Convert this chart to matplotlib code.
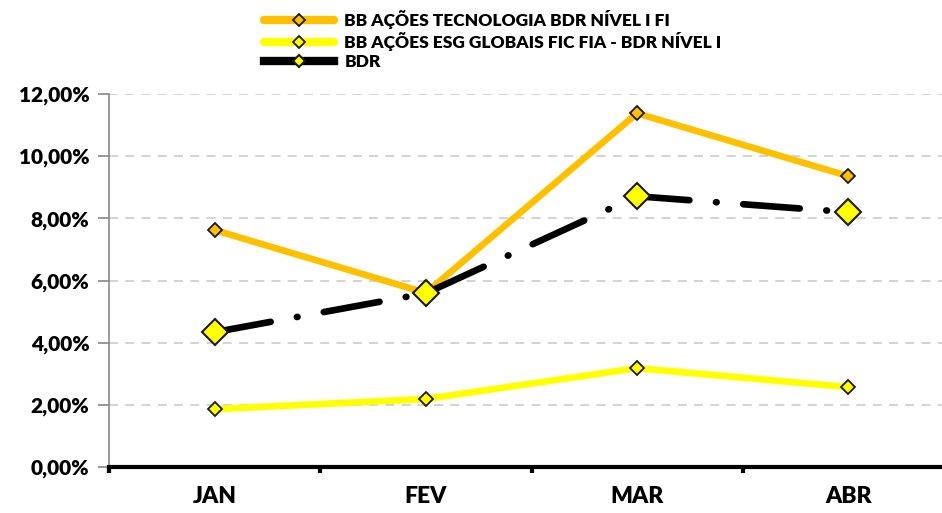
import matplotlib.pyplot as plt
from matplotlib.ticker import FuncFormatter, FixedLocator, NullFormatter

meses = ['JAN', 'FEV', 'MAR', 'ABR']
tecnologia = [7.62, 5.60, 11.38, 9.36]
esg = [1.86, 2.19, 3.18, 2.57]
bdr = [4.34, 5.59, 8.71, 8.20]

nomes = ['BB AÇÕES TECNOLOGIA BDR NÍVEL I FI',
         'BB AÇÕES ESG GLOBAIS FIC FIA - BDR NÍVEL I',
         'BDR']

plt.rcParams['font.family'] = ['Lato', 'DejaVu Sans']
plt.rcParams['font.weight'] = 'heavy'

fig = plt.figure(figsize=(9.42, 5.13), dpi=100)
ax = fig.add_axes([109 / 942, 1 - 467 / 513, (942 - 109) / 942, (467 - 94) / 513])

x = range(len(meses))
ax.plot(x, tecnologia, color='#FFC000', lw=4.8, solid_capstyle='round',
        marker='D', ms=7, mfc='#FFC000', mec='#1a1a1a', mew=1.3, label=nomes[0], zorder=3)
ax.plot(x, esg, color='#FFFF00', lw=4.8, solid_capstyle='round',
        marker='D', ms=7, mfc='#FFFF00', mec='#1a1a1a', mew=1.3, label=nomes[1], zorder=3)
ax.plot(x, bdr, color='black', lw=4.8, dashes=(8.5, 4.0, 0.1, 4.0), dash_capstyle='round',
        marker='D', ms=13, mfc='#FFFF00', mec='#1a1a1a', mew=1.5, label=nomes[2], zorder=4)

ax.set_xlim(-0.502, 3.445)
ax.set_ylim(0, 12)
ax.set_yticks([0, 2, 4, 6, 8, 10, 12])
ax.yaxis.set_major_formatter(FuncFormatter(lambda v, p: f'{v:.2f}%'.replace('.', ',')))
ax.yaxis.grid(True, color='#d0d0d0', ls=(0, (5, 4)), lw=1.3)
ax.set_axisbelow(True)

ax.xaxis.set_major_locator(FixedLocator([-0.5, 0.5, 1.5, 2.5]))
ax.xaxis.set_major_formatter(NullFormatter())
ax.xaxis.set_minor_locator(FixedLocator(list(x)))
ax.set_xticklabels(meses, minor=True)
ax.tick_params(axis='x', which='major', length=4, width=3, color='black')
ax.tick_params(axis='x', which='minor', length=0, pad=14, labelsize=16.5)
ax.tick_params(axis='y', length=8, width=1.2, color='#888888', labelsize=15, pad=6)

for s in ['top', 'right']:
    ax.spines[s].set_visible(False)
ax.spines['left'].set_color('#888888')
ax.spines['left'].set_linewidth(1.2)
ax.spines['bottom'].set_color('black')
ax.spines['bottom'].set_linewidth(3)
ax.spines['bottom'].set_zorder(5)

leg = ax.legend(loc='upper left', bbox_to_anchor=(254 / 942, 1.0), bbox_transform=fig.transFigure,
                frameon=False, fontsize=12.5, handlelength=4.0, handletextpad=0.6,
                labelspacing=0.15, borderaxespad=0.2)
for h in leg.legend_handles:
    h.set_markersize(6)
    h.set_linestyle('-')
    h.set_linewidth(6)

fig.savefig('out.png', dpi=100)
